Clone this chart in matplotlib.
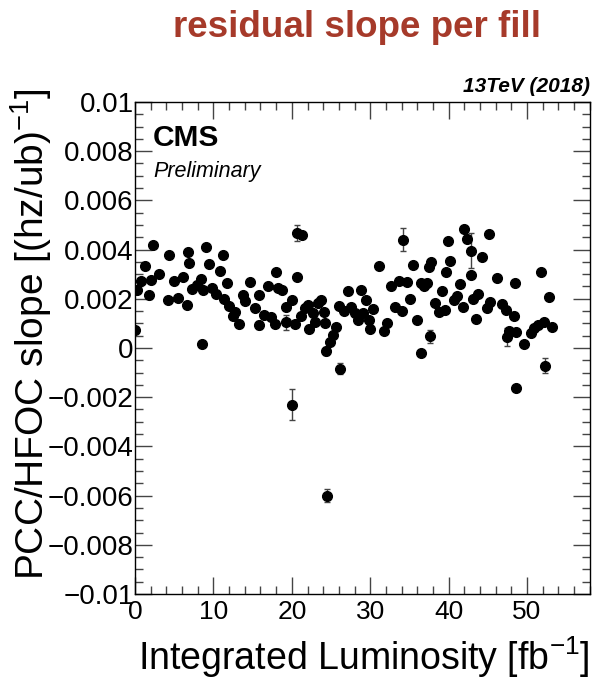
import numpy as np
import matplotlib.pyplot as plt
from matplotlib.ticker import MultipleLocator

plt.rcParams['font.family'] = ['Liberation Sans', 'DejaVu Sans']
plt.rcParams['mathtext.fontset'] = 'custom'
plt.rcParams['mathtext.rm'] = 'Liberation Sans'

# integrated luminosity of each fill [fb^-1]
lumi = [0.0, 0.3, 0.8, 1.27, 1.74, 2.08, 2.25, 3.06, 4.16, 4.37,
        4.93, 5.52, 6.07, 6.67, 6.75, 6.92, 7.3, 7.86, 8.4, 8.58,
        8.7, 9.04, 9.4, 9.8, 10.3, 10.8, 11.2, 11.4, 11.7, 12.0,
        12.5, 12.8, 13.25, 13.8, 14.0, 14.7, 15.3, 15.75, 15.83, 16.4,
        16.9, 17.4, 17.9, 18.0, 18.25, 18.7, 19.2, 19.3, 19.96, 20.0,
        20.4, 20.6, 20.7, 21.2, 21.3, 21.7, 22.1, 22.2, 22.7, 23.0,
        23.3, 23.7, 24.1, 24.2, 24.3, 24.5, 24.9, 25.3, 25.6, 26.0,
        26.15, 26.7, 27.1, 27.5, 28.0, 28.4, 28.8, 29.1, 29.4, 29.85,
        30.0, 30.4, 31.1, 31.7, 32.2, 32.7, 33.2, 33.7, 34.1, 34.2,
        34.7, 35.1, 35.5, 35.9, 36.5, 36.5, 36.9, 37.3, 37.5, 37.6,
        37.7, 38.25, 38.8, 39.2, 39.5, 39.6, 39.9, 40.2, 40.7, 41.1,
        41.4, 41.8, 42.0, 42.4, 42.8, 42.8, 43.1, 43.5, 43.8, 44.2,
        44.9, 45.2, 45.3, 46.2, 46.8, 47.3, 47.4, 47.7, 48.3, 48.4,
        48.6, 48.6, 49.6, 50.5, 50.9, 51.4, 51.8, 52.2, 52.3, 52.8,
        53.2]

# residual slope per fill [(hz/ub)^-1]
slope = [0.00074, 0.00237, 0.00274, 0.00335, 0.00214, 0.00275, 0.0042, 0.0030, 0.00196, 0.0038,
         0.00274, 0.00203, 0.00289, 0.00176, 0.0039, 0.00346, 0.00241, 0.00257, 0.00282, 0.00016,
         0.00234, 0.00412, 0.00343, 0.00244, 0.00221, 0.00311, 0.00376, 0.0020, 0.00264, 0.00172,
         0.00128, 0.00145, 0.00099, 0.00215, 0.0019, 0.00267, 0.00163, 0.00214, 0.00093, 0.00133,
         0.00253, 0.00124, 0.00098, 0.00307, 0.00244, 0.00234, 0.00167, 0.00104, 0.00196, -0.0023,
         0.00098, 0.00289, 0.00467, 0.00131, 0.0046, 0.00163, 0.00176, 0.00078, 0.00142, 0.00104,
         0.00183, 0.00196, 0.00145, 0.00102, -0.00012, -0.0060, 0.00023, 0.00051, 0.00085, 0.00172,
         -0.00084, 0.00149, 0.0023, 0.00167, 0.00142, 0.00115, 0.00234, 0.00142, 0.00195, 0.00115,
         0.00077, 0.0016, 0.00332, 0.0007, 0.00102, 0.0025, 0.00167, 0.00271, 0.00149, 0.0044,
         0.00268, 0.00199, 0.00337, 0.00115, 0.00264, -0.0002, 0.0025, 0.00264, 0.00329, 0.00047,
         0.00348, 0.00183, 0.00146, 0.00233, 0.00153, 0.00307, 0.00433, 0.00355, 0.00196, 0.00213,
         0.0026, 0.00167, 0.00484, 0.00443, 0.00396, 0.00297, 0.00199, 0.00118, 0.00221, 0.00368,
         0.00163, 0.00465, 0.00188, 0.00283, 0.00179, 0.00153, 0.00045, 0.0007, 0.0013, 0.00264,
         0.00067, -0.00163, 0.00016, 0.00061, 0.00081, 0.00095, 0.00309, 0.00104, -0.00072, 0.00209,
         0.00084]

# uncertainties: most are hidden under the markers
slope_err = [0.0001] * len(slope)
big_err = {15.83: 0.00015, 19.3: 0.0003, 20.0: 0.00064, 20.7: 0.00034, 22.2: 0.00015,
           24.3: 0.00015, 24.5: 0.00027, 26.15: 0.00023, 34.2: 0.00047, 37.6: 0.00028,
           47.4: 0.00037, 52.3: 0.0003}
for i, x in enumerate(lumi):
    if x in big_err:
        slope_err[i] = big_err[x]
# the 42.8 fill with large error (first of the two at 42.8)
slope_err[lumi.index(42.8)] = 0.0007

yticks = [-0.01, -0.008, -0.006, -0.004, -0.002, 0, 0.002, 0.004, 0.006, 0.008, 0.01]
ytick_labels = ['\u22120.01', '\u22120.008', '\u22120.006', '\u22120.004', '\u22120.002', '0',
                '0.002', '0.004', '0.006', '0.008', '0.01']
xticks = [0, 10, 20, 30, 40, 50]

fig = plt.figure(figsize=(6, 6.83), dpi=100)
ax = fig.add_axes([0.225, 0.1303, 0.758, 0.7204])

ax.errorbar(lumi, slope, yerr=slope_err, fmt='o', color='black', markersize=7,
            ecolor='#444444', elinewidth=1, capsize=2.5, capthick=1)

ax.set_xlim(0, 58.0)
ax.set_ylim(-0.01, 0.01)
ax.set_xticks(xticks)
ax.set_yticks(yticks)
ax.set_yticklabels(ytick_labels)
ax.xaxis.set_minor_locator(MultipleLocator(2))
ax.yaxis.set_minor_locator(MultipleLocator(0.0005))
ax.tick_params(which='both', direction='in', top=True, right=True, color='#444444', width=1)
ax.tick_params(which='major', length=12)
ax.tick_params(which='minor', length=6)
ax.tick_params(axis='x', labelsize=19, pad=4)
ax.tick_params(axis='y', labelsize=20, pad=1)
for s in ax.spines.values():
    s.set_linewidth(1)

ax.set_xlabel('Integrated Luminosity [fb$^{\\mathrm{-1}}$]', fontsize=27, loc='right', labelpad=8)
ax.set_ylabel('PCC/HFOC slope [(hz/ub)$^{\\mathrm{-1}}$]', fontsize=28)
ax.yaxis.set_label_coords(-0.178, 0.528)

ax.text(0.04, 0.955, 'CMS', transform=ax.transAxes, fontsize=21.5, fontweight='bold',
        va='top', ha='left')
ax.text(0.04, 0.88, 'Preliminary', transform=ax.transAxes, fontsize=15.5, style='italic',
        va='top', ha='left')
ax.text(1.0, 1.012, '13TeV (2018)', transform=ax.transAxes, fontsize=15, fontweight='bold',
        style='italic', va='bottom', ha='right')

fig.text(0.595, 0.96, 'residual slope per fill', fontsize=26.5, fontweight='bold',
         color='#a63a2a', ha='center', va='center')

fig.savefig('out.png', dpi=100)
